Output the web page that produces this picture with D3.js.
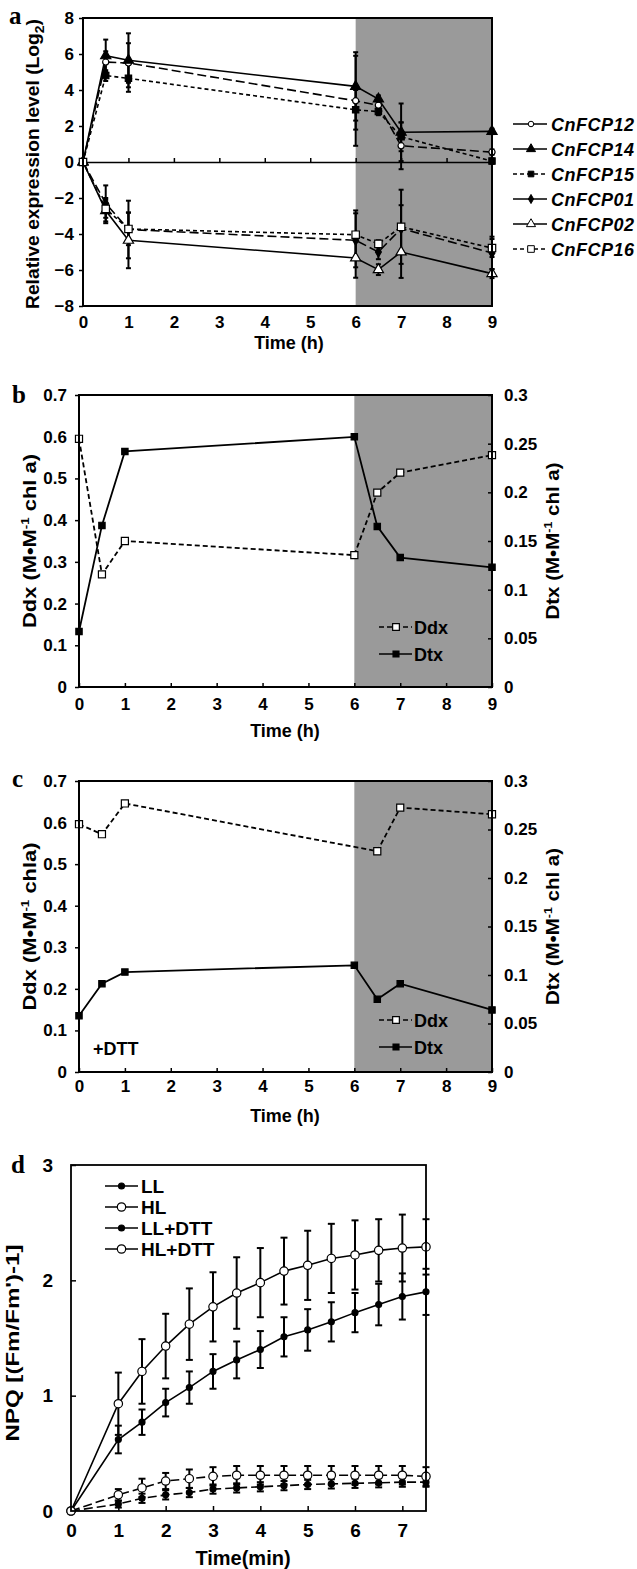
<!DOCTYPE html>
<html>
<head>
<meta charset="utf-8">
<script src="https://cdn.jsdelivr.net/npm/d3@7"></script>
<style>
body { margin: 0; background: #fff; }
text { font-family: "Liberation Sans", Arial, sans-serif; font-weight: bold; font-size: 17px; fill: #000; }
</style>
</head>
<body>
<script>
// ---- panel a : FCP expression ----
var timeA = [0, 0.5, 1, 6, 6.5, 7, 9];
var cnFCP12 = [0, 5.55, 5.5, 3.4, 3.15, 0.9, 0.55];
var cnFCP12Err = [0, 0.6, 1.1, 2.5, 0.2, 1.3, 0.15];
var cnFCP14 = [0, 5.9, 5.65, 4.2, 3.5, 1.65, 1.7];
var cnFCP14Err = [0, 0.9, 1.5, 1.9, 0.2, 1.6, 0.15];
var cnFCP15 = [0, 4.8, 4.65, 2.9, 2.8, 1.4, 0.05];
var cnFCP15Err = [0, 0.3, 0.75, 1.1, 0.2, 0.8, 0.15];
var cnFCP01 = [0, -2.3, -3.75, -4.35, -5.0, -3.7, -5.05];
var cnFCP01Err = [0, 1.0, 1.6, 1.5, 0.4, 1.3, 0.9];
var cnFCP02 = [0, -2.7, -4.35, -5.33, -5.98, -5.0, -6.2];
var cnFCP02Err = [0, 0.7, 1.55, 1.1, 0.3, 1.44, 0.25];
var cnFCP16 = [0, -2.6, -3.72, -4.04, -4.55, -3.6, -4.78];
var cnFCP16Err = [0, 0.5, 0.9, 1.35, 0.2, 2.06, 0.5];
var ticksA = [-8, -6, -4, -2, 0, 2, 4, 6, 8];

// ---- panel b : Ddx / Dtx ----
var timeB = [0, 0.5, 1, 6, 6.5, 7, 9];
var ddxB = [0.595, 0.27, 0.35, 0.316, 0.466, 0.514, 0.556];
var dtxB = [0.057, 0.166, 0.242, 0.257, 0.165, 0.133, 0.123];

// ---- panel c : Ddx / Dtx with DTT ----
var timeCDdx = [0, 0.5, 1, 6.5, 7, 9];
var ddxC = [0.596, 0.572, 0.646, 0.531, 0.636, 0.62];
var timeCDtx = [0, 0.5, 1, 6, 6.5, 7, 9];
var dtxC = [0.058, 0.091, 0.103, 0.110, 0.075, 0.091, 0.064];

var timeTicks = [0, 1, 2, 3, 4, 5, 6, 7, 8, 9];
var ddxTicks = [0, 0.1, 0.2, 0.3, 0.4, 0.5, 0.6, 0.7];
var dtxTicks = [0, 0.05, 0.1, 0.15, 0.2, 0.25, 0.3];

// ---- panel d : NPQ ----
var timeD = [0, 1, 1.5, 2, 2.5, 3, 3.5, 4, 4.5, 5, 5.5, 6, 6.5, 7, 7.5];
var npqLL = [0, 0.62, 0.77, 0.94, 1.07, 1.21, 1.31, 1.40, 1.51, 1.57, 1.64, 1.72, 1.79, 1.86, 1.90];
var npqLLErr = [0, 0.12, 0.11, 0.12, 0.14, 0.15, 0.16, 0.16, 0.17, 0.18, 0.17, 0.17, 0.18, 0.2, 0.2];
var npqHL = [0, 0.93, 1.21, 1.43, 1.62, 1.77, 1.89, 1.98, 2.08, 2.13, 2.19, 2.22, 2.26, 2.28, 2.29];
var npqHLErr = [0, 0.27, 0.28, 0.28, 0.31, 0.30, 0.31, 0.30, 0.29, 0.30, 0.30, 0.30, 0.27, 0.29, 0.24];
var npqLLDTT = [0, 0.06, 0.11, 0.14, 0.16, 0.19, 0.20, 0.21, 0.22, 0.23, 0.235, 0.24, 0.245, 0.25, 0.25];
var npqLLDTTErr = [0, 0.03, 0.04, 0.04, 0.04, 0.04, 0.04, 0.04, 0.04, 0.04, 0.04, 0.04, 0.04, 0.04, 0.04];
var npqHLDTT = [0, 0.14, 0.20, 0.26, 0.28, 0.30, 0.31, 0.31, 0.31, 0.31, 0.31, 0.31, 0.31, 0.31, 0.30];
var npqHLDTTErr = [0, 0.05, 0.08, 0.07, 0.08, 0.08, 0.08, 0.08, 0.08, 0.08, 0.08, 0.08, 0.08, 0.08, 0.08];
var timeDTicks = [0, 1, 2, 3, 4, 5, 6, 7];
var npqTicks = [0, 1, 2, 3];

var width = 637,
    height = 1569;

var svg = d3.select("body").append("svg")
    .attr("width", width)
    .attr("height", height)
    .style("display", "block");

var shade = "#9a9a9a";

function zip(xs, ys) {
  return xs.map(function(t, i) { return [t, ys[i]]; });
}

function cleanAxis(g) {
  g.attr("font-size", null).attr("font-family", null);
  g.selectAll("line").attr("stroke", "#000").attr("stroke-width", 1.5);
}

function drawLine(g, xs, ys, x, y, dash, w) {
  g.append("path")
    .datum(zip(xs, ys))
    .attr("fill", "none")
    .attr("stroke", "#000")
    .attr("stroke-width", w || 1.6)
    .attr("stroke-dasharray", dash)
    .attr("d", d3.line().x(function(d) { return x(d[0]); }).y(function(d) { return y(d[1]); }));
}

function drawMarks(g, xs, ys, x, y, type, size, open) {
  g.append("g").selectAll("path")
    .data(zip(xs, ys))
    .enter().append("path")
    .attr("transform", function(d) { return "translate(" + x(d[0]) + "," + y(d[1]) + ")"; })
    .attr("d", d3.symbol().type(type).size(size))
    .attr("fill", open ? "#fff" : "#000")
    .attr("stroke", "#000")
    .attr("stroke-width", 1.2);
}

function drawErr(g, xs, ys, es, x, y, cap) {
  var data = xs.map(function(t, i) { return [t, ys[i], es[i]]; }).filter(function(d) { return d[2] > 0; });
  var e = g.append("g").attr("stroke", "#000").attr("stroke-width", 2);
  e.selectAll(".v").data(data).enter().append("line")
    .attr("x1", function(d) { return x(d[0]); }).attr("x2", function(d) { return x(d[0]); })
    .attr("y1", function(d) { return y(d[1] - d[2]); }).attr("y2", function(d) { return y(d[1] + d[2]); });
  [-1, 1].forEach(function(s) {
    e.selectAll(".c" + s).data(data).enter().append("line")
      .attr("x1", function(d) { return x(d[0]) - cap; }).attr("x2", function(d) { return x(d[0]) + cap; })
      .attr("y1", function(d) { return y(d[1] + s * d[2]); }).attr("y2", function(d) { return y(d[1] + s * d[2]); });
  });
}

function frame(x0, x1, y0, y1, w) {
  svg.append("rect")
    .attr("x", x0).attr("y", y0)
    .attr("width", x1 - x0).attr("height", y1 - y0)
    .attr("fill", "none").attr("stroke", "#000").attr("stroke-width", w);
}

function panelLetter(ch, x, y) {
  svg.append("text").attr("x", x).attr("y", y).text(ch)
    .style("font-family", "'Liberation Serif', 'Times New Roman', serif")
    .style("font-size", "25px");
}

function vTitle(x, y, len, size, parts) {
  var t = svg.append("text")
    .attr("transform", "translate(" + x + "," + y + ") rotate(-90)")
    .attr("text-anchor", "middle")
    .attr("textLength", len)
    .attr("lengthAdjust", "spacingAndGlyphs")
    .style("font-size", size + "px");
  parts.forEach(function(p) {
    var s = t.append("tspan").text(p[0]);
    if (p[1] == "sub") s.attr("dy", 5).style("font-size", (size - 5) + "px");
    if (p[1] == "back") s.attr("dy", -5);
    if (p[1] == "sup") s.attr("dy", -7).style("font-size", (size - 7) + "px");
    if (p[1] == "down") s.attr("dy", 7);
  });
}

function hTitle(x, y, str, size) {
  svg.append("text").attr("x", x).attr("y", y)
    .attr("text-anchor", "middle")
    .style("font-size", size + "px")
    .text(str);
}

var fmt = function(d) { return String(+d.toFixed(2)); };

// =========================== panel a ===========================
var xA = d3.scaleLinear().domain([0, 9]).range([83, 492]);
var yA = d3.scaleLinear().domain([-8, 8]).range([306, 18]);
var gA = svg.append("g");

gA.append("rect")
  .attr("x", xA(6)).attr("y", yA(8))
  .attr("width", xA(9) - xA(6)).attr("height", yA(-8) - yA(8))
  .attr("fill", shade);

gA.append("g")
  .attr("transform", "translate(0," + yA(0) + ")")
  .call(d3.axisTop(xA).tickValues(timeTicks).tickSizeInner(4).tickSizeOuter(0).tickFormat(""))
  .call(cleanAxis)
  .call(function(g) { g.select(".domain").attr("stroke", "#000").attr("stroke-width", 1.5); });

gA.append("g")
  .attr("transform", "translate(0," + yA(-8) + ")")
  .call(d3.axisBottom(xA).tickValues(timeTicks).tickSize(0).tickPadding(10))
  .call(cleanAxis)
  .call(function(g) { g.select(".domain").remove(); });

gA.append("g")
  .attr("transform", "translate(" + xA(0) + ",0)")
  .call(d3.axisLeft(yA).tickValues(ticksA).tickSizeInner(4).tickSizeOuter(0).tickPadding(5))
  .call(cleanAxis)
  .call(function(g) { g.select(".domain").remove(); });

var seriesA = [
  { name: "CnFCP12", v: cnFCP12, e: cnFCP12Err, dash: "9,4", legDash: null, type: d3.symbolCircle, size: 30, open: true },
  { name: "CnFCP14", v: cnFCP14, e: cnFCP14Err, dash: null, legDash: null, type: d3.symbolTriangle, size: 45, open: false },
  { name: "CnFCP15", v: cnFCP15, e: cnFCP15Err, dash: "4,3", legDash: "4,3", type: d3.symbolSquare, size: 40, open: false },
  { name: "CnFCP01", v: cnFCP01, e: cnFCP01Err, dash: "9,4", legDash: null, type: d3.symbolDiamond, size: 30, open: false },
  { name: "CnFCP02", v: cnFCP02, e: cnFCP02Err, dash: null, legDash: null, type: d3.symbolTriangle, size: 45, open: true },
  { name: "CnFCP16", v: cnFCP16, e: cnFCP16Err, dash: "4,3", legDash: "4,3", type: d3.symbolSquare, size: 55, open: true }
];

seriesA.forEach(function(s) { drawErr(gA, timeA, s.v, s.e, xA, yA, 2.5); });
seriesA.forEach(function(s) { drawLine(gA, timeA, s.v, xA, yA, s.dash, 1.6); });
seriesA.forEach(function(s) { drawMarks(gA, timeA, s.v, xA, yA, s.type, s.size, s.open); });

frame(xA(0), xA(9), yA(8), yA(-8), 2);

var legA = svg.append("g");
seriesA.forEach(function(s, i) {
  var ly = 124 + i * 25;
  legA.append("line").attr("x1", 513).attr("x2", 547).attr("y1", ly).attr("y2", ly)
    .attr("stroke", "#000").attr("stroke-width", 1.6).attr("stroke-dasharray", s.legDash);
  legA.append("path").attr("transform", "translate(531," + ly + ")")
    .attr("d", d3.symbol().type(s.type).size(s.size * 0.8))
    .attr("fill", s.open ? "#fff" : "#000").attr("stroke", "#000").attr("stroke-width", 1);
  legA.append("text").attr("x", 551).attr("y", ly + 6.5)
    .style("font-style", "italic").style("font-size", "18px").style("letter-spacing", "0.5px")
    .text(s.name);
});

panelLetter("a", 9, 24);
hTitle(289, 349, "Time (h)", 18);
vTitle(39, 164, 290, 18, [["Relative expression level (Log"], ["2", "sub"], [")", "back"]]);

// =========================== panels b and c ===========================
function ddxPanel(top, bottom, tDdx, ddx, tDtx, dtx, leftTitle, leftLen, legY, padX) {
  var x = d3.scaleLinear().domain([0, 9]).range([79, 492]);
  var yL = d3.scaleLinear().domain([0, 0.7]).range([bottom, top]);
  var yR = d3.scaleLinear().domain([0, 0.3]).range([bottom, top]);
  var g = svg.append("g");

  g.append("rect")
    .attr("x", x(6)).attr("y", top)
    .attr("width", x(9) - x(6)).attr("height", bottom - top)
    .attr("fill", shade);

  g.append("g")
    .attr("transform", "translate(0," + bottom + ")")
    .call(d3.axisBottom(x).tickValues(timeTicks).tickSizeInner(-4).tickSizeOuter(0).tickPadding(padX))
    .call(cleanAxis)
    .call(function(a) { a.select(".domain").remove(); });

  g.append("g")
    .attr("transform", "translate(" + x(0) + ",0)")
    .call(d3.axisLeft(yL).tickValues(ddxTicks).tickFormat(fmt).tickSizeInner(4).tickSizeOuter(0).tickPadding(8))
    .call(cleanAxis)
    .call(function(a) { a.select(".domain").remove(); });

  g.append("g")
    .attr("transform", "translate(" + x(9) + ",0)")
    .call(d3.axisRight(yR).tickValues(dtxTicks).tickFormat(fmt).tickSizeInner(-4).tickSizeOuter(0).tickPadding(12))
    .call(cleanAxis)
    .call(function(a) { a.select(".domain").remove(); });

  drawLine(g, tDdx, ddx, x, yL, "5,3", 1.8);
  drawLine(g, tDtx, dtx, x, yR, null, 1.8);
  drawMarks(g, tDdx, ddx, x, yL, d3.symbolSquare, 50, true);
  drawMarks(g, tDtx, dtx, x, yR, d3.symbolSquare, 40, false);

  frame(x(0), x(9), top, bottom, 2);

  // legend
  var leg = [["Ddx", "5,3", true], ["Dtx", null, false]];
  leg.forEach(function(l, i) {
    var ly = legY + i * 27;
    g.append("line").attr("x1", 379).attr("x2", 412).attr("y1", ly).attr("y2", ly)
      .attr("stroke", "#000").attr("stroke-width", 1.6).attr("stroke-dasharray", l[1]);
    g.append("path").attr("transform", "translate(396," + ly + ")")
      .attr("d", d3.symbol().type(d3.symbolSquare).size(l[2] ? 45 : 35))
      .attr("fill", l[2] ? "#fff" : "#000").attr("stroke", "#000").attr("stroke-width", 1.2);
    g.append("text").attr("x", 414).attr("y", ly + 6.5).style("font-size", "18px").text(l[0]);
  });

  var mid = (top + bottom) / 2;
  hTitle(285, bottom + 50, "Time (h)", 18);
  vTitle(36, mid, leftLen, 18, leftTitle);
  vTitle(559, mid, 157, 18, [["Dtx (M\u2022M"], ["-1", "sup"], [" chl a)", "down"]]);
}

ddxPanel(395, 687, timeB, ddxB, timeB, dtxB,
  [["Ddx (M\u2022M"], ["-1", "sup"], [" chl a)", "down"]], 174, 627, 11);
panelLetter("b", 12, 403);

ddxPanel(781, 1072, timeCDdx, ddxC, timeCDtx, dtxC,
  [["Ddx (M\u2022M"], ["-1", "sup"], [" chla)", "down"]], 168, 1020, 8);
panelLetter("c", 12, 787);
svg.append("text").attr("x", 93).attr("y", 1055).style("font-size", "18px").text("+DTT");

// =========================== panel d ===========================
var xD = d3.scaleLinear().domain([0, 7.5]).range([71, 426]);
var yD = d3.scaleLinear().domain([0, 3]).range([1511, 1165]);
var gD = svg.append("g");

gD.append("g")
  .attr("transform", "translate(0," + yD(0) + ")")
  .call(d3.axisBottom(xD).tickValues(timeDTicks).tickFormat(d3.format("d")).tickSizeInner(-5).tickSizeOuter(0).tickPadding(13))
  .call(cleanAxis)
  .call(function(a) { a.select(".domain").remove(); a.selectAll("text").style("font-size", "19px"); });

gD.append("g")
  .attr("transform", "translate(" + xD(0) + ",0)")
  .call(d3.axisLeft(yD).tickValues(npqTicks).tickFormat(d3.format("d")).tickSizeInner(-5).tickSizeOuter(0).tickPadding(18))
  .call(cleanAxis)
  .call(function(a) { a.select(".domain").remove(); a.selectAll("text").style("font-size", "19px"); });

var seriesD = [
  { name: "LL", v: npqLL, e: npqLLErr, dash: null, open: false, size: 28 },
  { name: "HL", v: npqHL, e: npqHLErr, dash: null, open: true, size: 55 },
  { name: "LL+DTT", v: npqLLDTT, e: npqLLDTTErr, dash: "9,4", open: false, size: 28 },
  { name: "HL+DTT", v: npqHLDTT, e: npqHLDTTErr, dash: "9,4", open: true, size: 55 }
];

seriesD.forEach(function(s) { drawErr(gD, timeD, s.v, s.e, xD, yD, 3.5); });
seriesD.forEach(function(s) { drawLine(gD, timeD, s.v, xD, yD, s.dash, 1.6); });
seriesD.forEach(function(s) { drawMarks(gD, timeD, s.v, xD, yD, d3.symbolCircle, s.size, s.open); });

frame(xD(0), xD(7.5), yD(3), yD(0), 1.8);

seriesD.forEach(function(s, i) {
  var ly = 1186 + i * 21;
  gD.append("line").attr("x1", 105).attr("x2", 138).attr("y1", ly).attr("y2", ly)
    .attr("stroke", "#000").attr("stroke-width", 1.6);
  gD.append("path").attr("transform", "translate(121.5," + ly + ")")
    .attr("d", d3.symbol().type(d3.symbolCircle).size(s.size))
    .attr("fill", s.open ? "#fff" : "#000").attr("stroke", "#000").attr("stroke-width", 1.2);
  gD.append("text").attr("x", 141).attr("y", ly + 7).style("font-size", "19px").text(s.name);
});

panelLetter("d", 11, 1173);
hTitle(243, 1565, "Time(min)", 20);
vTitle(19, 1343, 197, 18, [["NPQ  [(Fm/Fm')-1]"]]);
</script>
</body>
</html>
